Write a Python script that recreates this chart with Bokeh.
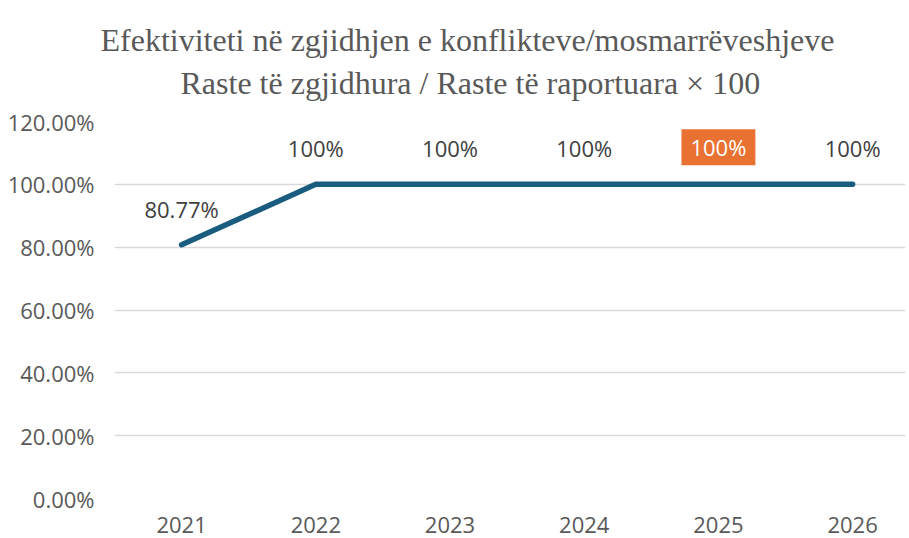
from bokeh.plotting import figure
from bokeh.models import ColumnDataSource, Title, Label, LabelSet, FixedTicker, Range1d, CustomJSTickFormatter
from bokeh.core.properties import value
from bokeh.embed import file_html
from bokeh.resources import INLINE

years = [2021, 2022, 2023, 2024, 2025, 2026]
values = [80.77, 100, 100, 100, 100, 100]
point_labels = ["80.77%", "100%", "100%", "100%", "100%", "100%"]
highlight_index = 4
y_ticks = [0, 20, 40, 60, 80, 100, 120]
title_line1 = "Efektiviteti në zgjidhjen e konflikteve/mosmarrëveshjeve"
title_line2 = "Raste të zgjidhura / Raste të raportuara × 100"

FONT = "Open Sans"
TXT = "#595959"

p = figure(frame_width=791, frame_height=377, output_backend="svg", toolbar_location=None,
           x_range=Range1d(2020.5, 2026.394), y_range=Range1d(0, 120),
           min_border_left=114, min_border_right=4, min_border_top=120, min_border_bottom=41)
p.outline_line_color = None
p.background_fill_color = "white"
p.border_fill_color = "white"

indent = "\u00a0" * 10
p.add_layout(Title(text=title_line1 + "\n" + indent + title_line2, align="left",
                   text_font="Liberation Serif", text_font_size="32px", text_font_style="normal",
                   text_color=TXT, standoff=40, offset=-14, text_line_height=1.2), "above")

p.xaxis.ticker = FixedTicker(ticks=years)
p.yaxis.ticker = FixedTicker(ticks=y_ticks)
p.yaxis.formatter = CustomJSTickFormatter(code="return tick.toFixed(2) + '%';")
for ax in (p.xaxis, p.yaxis):
    ax.axis_line_color = None
    ax.major_tick_line_color = None
    ax.minor_tick_line_color = None
    ax.major_label_text_font = FONT
    ax.major_label_text_font_size = "22px"
    ax.major_label_text_color = TXT
p.yaxis.major_label_standoff = 14
p.xaxis.major_label_standoff = 12
p.xgrid.grid_line_color = None
p.ygrid.grid_line_color = "#d9d9d9"
p.ygrid.grid_line_width = 1.5

src = ColumnDataSource(dict(x=years, y=values, lab=point_labels))
p.line("x", "y", source=src, line_color="#1a5c80", line_width=5.5, line_cap="round", line_join="round")

normal_idx = [i for i in range(len(years)) if i != highlight_index]
src_n = ColumnDataSource(dict(x=[years[i] for i in normal_idx], y=[values[i] for i in normal_idx],
                              lab=[point_labels[i] for i in normal_idx]))
p.add_layout(LabelSet(x="x", y="y", text="lab", source=src_n, y_offset=36, text_align="center",
                      text_baseline="middle", text_font=value(FONT), text_font_size=value("22px"),
                      text_color="#404040"))

p.add_layout(Label(x=years[highlight_index], y=values[highlight_index], text=point_labels[highlight_index],
                   y_offset=37, text_align="center", text_baseline="middle", text_font=FONT,
                   text_font_size="22px", text_color="white", background_fill_color="#e97132",
                   padding=(9, 3)))

open("out.html", "w").write(file_html(p, INLINE))
